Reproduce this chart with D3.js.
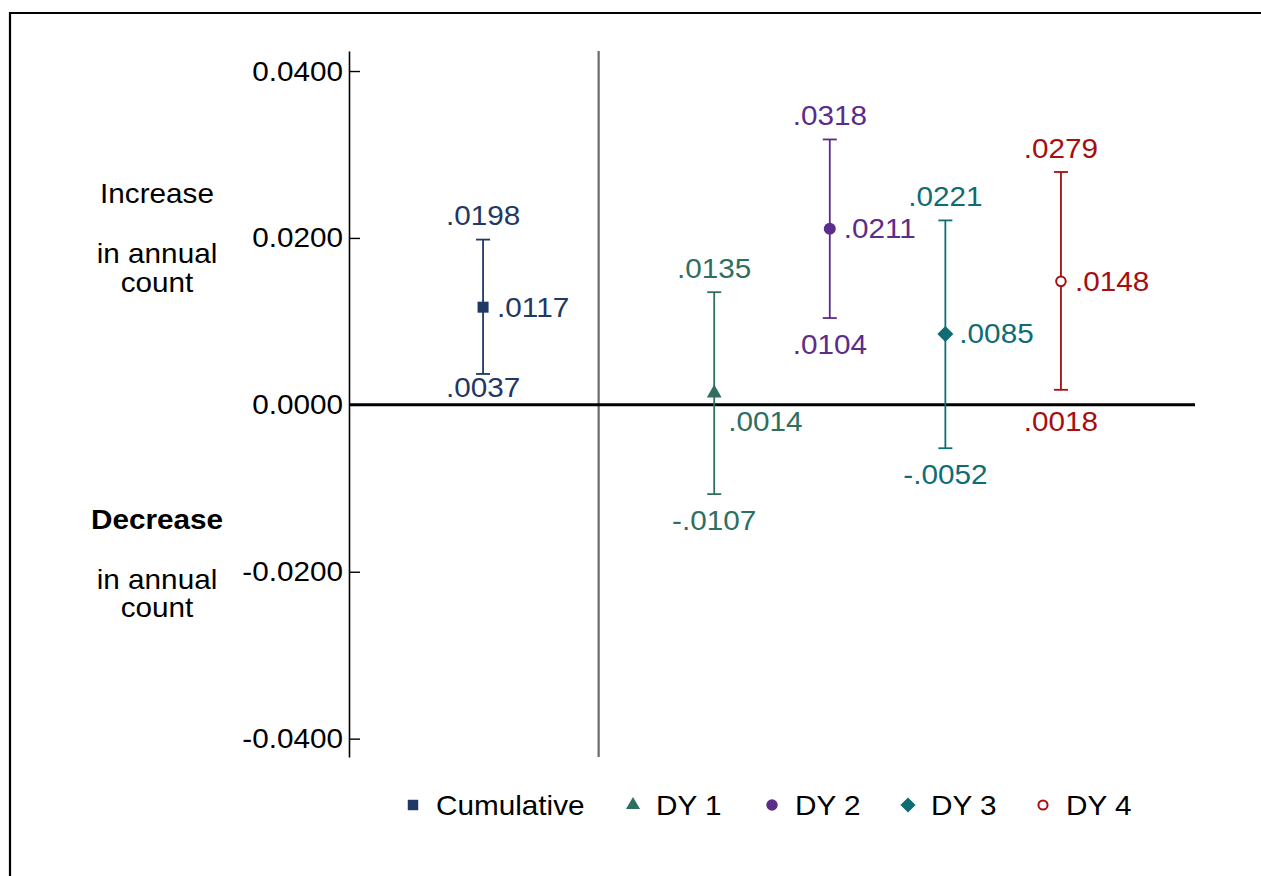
<!DOCTYPE html>
<html>
<head>
<meta charset="utf-8">
<script src="https://cdn.jsdelivr.net/npm/d3@7/dist/d3.min.js"></script>
<style>
  html, body { margin: 0; padding: 0; background: #fff; }
  svg text { font-family: "Liberation Sans", Arial, sans-serif; }
</style>
</head>
<body>
<svg id="chart" width="1261" height="876"></svg>
<script>
// ---- data ----
const categories = ["Cumulative", "DY 1", "DY 2", "DY 3", "DY 4"];
const estimates  = [0.0117, 0.0014, 0.0211, 0.0085, 0.0148];
const lowerCI    = [0.0037, -0.0107, 0.0104, -0.0052, 0.0018];
const upperCI    = [0.0198, 0.0135, 0.0318, 0.0221, 0.0279];
const colors     = ["#1f3864", "#2e6f61", "#5b2c8a", "#0f6c75", "#a50f0f"];
const symbols    = ["square", "triangle", "circle", "diamond", "hollow"];
const yTicks     = [-0.04, -0.02, 0, 0.02, 0.04];
const slotOrder  = ["Cumulative", "sep", "DY 1", "DY 2", "DY 3", "DY 4"];

const FS = 27, SX = 1.1;
const svg = d3.select("#chart");

// frame
svg.append("path").attr("d", "M10,900 L10,13 L1300,13")
  .attr("fill", "none").attr("stroke", "#000").attr("stroke-width", 2.2);

const y = d3.scaleLinear().domain([-0.0422, 0.0424]).range([757, 51]);
const x = d3.scalePoint().domain(slotOrder).range([349, 1195]).padding(1.16);

function txt(sel, xPos, yPos, s, anchor, color, weight) {
  return sel.append("text")
    .attr("transform", `translate(${xPos},${yPos}) scale(${SX},1)`)
    .attr("text-anchor", anchor || "middle")
    .attr("dominant-baseline", "central")
    .attr("font-size", FS)
    .attr("font-weight", weight || "normal")
    .attr("fill", color || "#000")
    .text(s);
}

// y axis
const axisG = svg.append("g").attr("transform", "translate(349,0)")
  .call(d3.axisLeft(y).tickValues(yTicks).tickSizeInner(-11).tickSizeOuter(0)
    .tickPadding(6).tickFormat(d => d3.format(".4f")(d).replace("\u2212", "-")));
axisG.select(".domain").attr("stroke", "#000").attr("stroke-width", 1.6);
axisG.selectAll(".tick line").attr("stroke", "#000").attr("stroke-width", 1.4);
axisG.selectAll(".tick text").remove();
yTicks.forEach(v => txt(svg, 343, y(v), d3.format(".4f")(v).replace("\u2212", "-"), "end"));

// side labels
const lx = 157;
txt(svg, lx, 193, "Increase");
txt(svg, lx, 253, "in annual");
txt(svg, lx, 282, "count");
txt(svg, lx, 519, "Decrease", "middle", "#000", "bold");
txt(svg, lx, 579, "in annual");
txt(svg, lx, 607, "count");

// separator & zero line
svg.append("line").attr("x1", x("sep")).attr("x2", x("sep"))
  .attr("y1", y.range()[1]).attr("y2", y.range()[0])
  .attr("stroke", "#6b6b6b").attr("stroke-width", 2.2);
svg.append("line").attr("x1", 349).attr("x2", 1195)
  .attr("y1", y(0)).attr("y2", y(0))
  .attr("stroke", "#000").attr("stroke-width", 3);

const fmt = v => d3.format(".4f")(v).replace("\u2212", "-").replace("0.", ".");

function marker(g, type, cx, cy, color, scale) {
  const k = scale || 1;
  if (type === "square") {
    g.append("rect").attr("x", cx - 5.5 * k).attr("y", cy - 5.5 * k)
      .attr("width", 11 * k).attr("height", 11 * k).attr("fill", color);
  } else if (type === "triangle") {
    g.append("path").attr("d", d3.symbol(d3.symbolTriangle, 95 * k * k)())
      .attr("transform", `translate(${cx},${cy})`).attr("fill", color);
  } else if (type === "circle") {
    g.append("circle").attr("cx", cx).attr("cy", cy).attr("r", 6 * k).attr("fill", color);
  } else if (type === "diamond") {
    g.append("path").attr("d", `M0,${-8*k} L${8*k},0 L0,${8*k} L${-8*k},0Z`)
      .attr("transform", `translate(${cx},${cy})`).attr("fill", color);
  } else {
    g.append("circle").attr("cx", cx).attr("cy", cy).attr("r", 4.8 * k)
      .attr("fill", "#fff").attr("stroke", color).attr("stroke-width", 2);
  }
}

const zeroY = y(0);
function avoidZero(py, forceBelow) {
  if (Math.abs(py - zeroY) < 16) {
    return (py < zeroY && !forceBelow) ? zeroY - 17 : zeroY + 17;
  }
  return py;
}

categories.forEach((c, i) => {
  const g = svg.append("g");
  const cx = x(c), col = colors[i];
  const yt = y(upperCI[i]), yb = y(lowerCI[i]), ym = y(estimates[i]);
  g.append("line").attr("x1", cx).attr("x2", cx).attr("y1", yt).attr("y2", yb)
    .attr("stroke", col).attr("stroke-width", 1.8);
  [yt, yb].forEach(yy => g.append("line").attr("x1", cx - 7).attr("x2", cx + 7)
    .attr("y1", yy).attr("y2", yy).attr("stroke", col).attr("stroke-width", 1.8));
  marker(g, symbols[i], cx, ym, col);
  txt(g, cx, yt - 24, fmt(upperCI[i]), "middle", col);
  txt(g, cx, avoidZero(yb + 26), fmt(lowerCI[i]), "middle", col);
  txt(g, cx + 14, avoidZero(ym, true), fmt(estimates[i]), "start", col);
});

// legend
const legX = [413, 633, 772, 908, 1043];
const legY = 805;
categories.forEach((c, i) => {
  const g = svg.append("g");
  marker(g, symbols[i], legX[i], legY, colors[i], 0.95);
  txt(g, legX[i] + 23, legY, c, "start", "#000");
});
</script>
</body>
</html>
